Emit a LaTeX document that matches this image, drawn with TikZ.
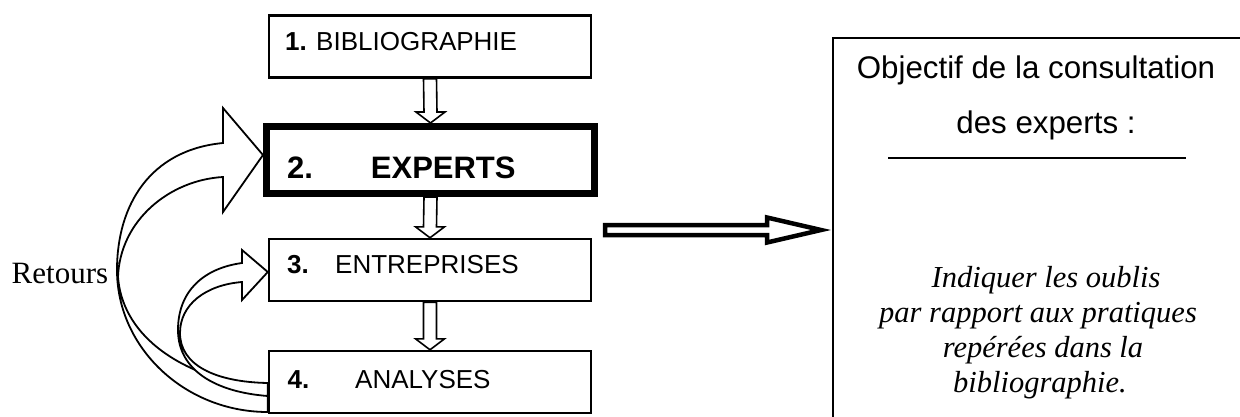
\documentclass[tikz,border=0pt]{standalone}
\usepackage{fontspec}
\setmainfont{Liberation Serif}
\newfontfamily\arialf{Liberation Sans}
\usetikzlibrary{calc}
\begin{document}
\begin{tikzpicture}[x=1pt,y=-1pt,
  box/.style={draw,line width=2.4pt,minimum width=322pt,minimum height=62pt,inner sep=0pt},
  lab/.style={inner sep=0pt,anchor=base west,font=\arialf\fontsize{26}{30}\selectfont},
  sanslab/.style={inner sep=0pt,anchor=base,font=\arialf\fontsize{31.3}{36}\selectfont},
  itlab/.style={inner sep=0pt,anchor=base,font=\fontsize{30.5}{35}\selectfont\itshape},
  harrow/.style={draw,line width=1.6pt,fill=white,line join=miter},
  curvarrow/.style={draw,line width=1.8pt,fill=white,line join=miter},
  bigarrow/.style={draw,line width=4.5pt,fill=white,line join=miter}]
\clip (0,0) rectangle (1240,416);
\useasboundingbox (0,0) rectangle (1240,416);

% boxes
\node[box] (b1) at (430,46.5) {};
\node[box,line width=7pt,minimum width=328pt,minimum height=67pt] (b2) at (430.5,160) {};
\node[box] (b3) at (430,270) {};
\node[box] (b4) at (430,382) {};

% labels
\node[lab] (l1) at (285,50) {\makebox[31pt][l]{\textbf{1.}}BIBLIOGRAPHIE};
\node[lab,font=\arialf\bfseries\fontsize{31}{36}\selectfont] (l2) at (287,178) {\makebox[83.7pt][l]{2.}EXPERTS};
\node[lab] (l3) at (287,273) {\makebox[48pt][l]{\textbf{3.}}ENTREPRISES};
\node[lab] (l4) at (287.5,388) {\makebox[67.5pt][l]{\textbf{4.}}ANALYSES};

% vertical hollow arrows
\foreach \a/\b in {b1/b2,b2/b3,b3/b4}{
  \draw[harrow] ($(\a.south)+(-6.5,0)$) -- ($(\b.north)+(-6.5,-11)$)
     -- ($(\b.north)+(-14.5,-11)$) -- (\b.north) -- ($(\b.north)+(14.5,-11)$)
     -- ($(\b.north)+(6.5,-11)$) -- ($(\a.south)+(6.5,0)$) -- cycle;
}

% big curved arrow (4 -> 2)
\coordinate (bigtip) at ($(b2.west)+(0,-5)$);
\draw[curvarrow] ($(b4.west)+(0,30)$)
   .. controls (185,412) and (117,348) .. (117,270)
   .. controls (117,205) and (150,150) .. (223,143)
   -- (223,108) -- (bigtip) -- (223,212) -- (223,177)
   .. controls (170,180) and (120,220) .. (118,277)
   .. controls (122,330) and (170,375) .. ($(b4.west)+(0,8)$) -- cycle;

% small curved arrow (4 -> 3)
\coordinate (smalltip) at ($(b3.west)+(0,2)$);
\draw[curvarrow] ($(b4.west)+(0,14)$)
   .. controls (215,392) and (178,370) .. (178,330)
   .. controls (178,290) and (205,268) .. (242,263)
   -- (242,250) -- (smalltip) -- (242,300) -- (242,282)
   .. controls (205,285) and (180,305) .. (180,333)
   .. controls (180,365) and (215,382) .. ($(b4.west)+(0,1)$) -- cycle;

\node[inner sep=0pt,anchor=base west,font=\fontsize{31}{36}\selectfont] (ret) at (11.5,283) {Retours};

% right box
\node[draw,line width=2pt,anchor=north west,minimum width=440pt,minimum height=420pt,inner sep=0pt] (obj) at (832,37) {};
\node[sanslab] (o1) at (1036,78) {Objectif de la consultation};
\node[sanslab] (o2) at (1046,133) {des experts :};
\draw[line width=2pt] (888,158) -- (1186,158);
\node[itlab] (i1) at (1046,287) {Indiquer les oublis};
\node[itlab] (i2) at (1038,322) {par rapport aux pratiques};
\node[itlab] (i3) at (1043,357) {repérées dans la};
\node[itlab] (i4) at (1040,392) {bibliographie.};

% horizontal big arrow
\coordinate (ra) at (605,230);
\draw[bigarrow] ($(ra)+(0,-5)$) -- (767,225) -- (767,217.5)
   -- ($(obj.west|-ra)+(-11,0)$) -- (767,242.5) -- (767,235) -- ($(ra)+(0,5)$) -- cycle;
\end{tikzpicture}
\end{document}
